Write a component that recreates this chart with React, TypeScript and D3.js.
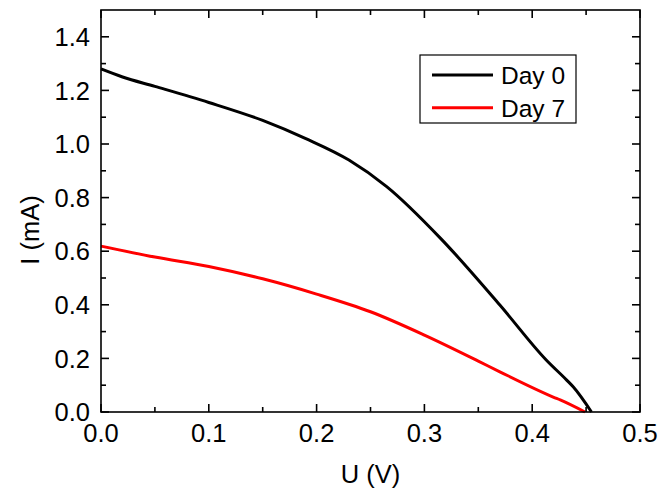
import React from "react";
import * as d3 from "d3";

const day0U = [0, 0.02, 0.05, 0.1, 0.15, 0.19, 0.23, 0.265, 0.315, 0.37, 0.413, 0.432, 0.438, 0.455];
const day0I = [1.28, 1.25, 1.215, 1.155, 1.088, 1.02, 0.94, 0.841, 0.648, 0.399, 0.194, 0.119, 0.094, 0.0];
const day7U = [0, 0.05, 0.1, 0.15, 0.2, 0.25, 0.3, 0.35, 0.37, 0.42, 0.426, 0.449];
const day7I = [0.619, 0.578, 0.543, 0.497, 0.44, 0.374, 0.287, 0.19, 0.15, 0.055, 0.045, 0.0];
const xTicks = [0, 0.1, 0.2, 0.3, 0.4, 0.5];
const yTicks = [0, 0.2, 0.4, 0.6, 0.8, 1.0, 1.2, 1.4];
const seriesNames = ["Day 0", "Day 7"];
const seriesColors = ["#000000", "#ff0000"];

const L = 101, R = 640, T = 10, B = 412;
const FONT = "'Liberation Sans', Arial, sans-serif";

export default function App() {
  const x = d3.scaleLinear().domain([0, 0.5]).range([L, R]);
  const y = d3.scaleLinear().domain([0, 1.5]).range([B, T]);
  const line = d3.line<[number, number]>().x(d => x(d[0])).y(d => y(d[1])).curve(d3.curveMonotoneX);
  const s0 = day0U.map((u, i) => [u, day0I[i]] as [number, number]);
  const s7 = day7U.map((u, i) => [u, day7I[i]] as [number, number]);
  const xMinor = d3.range(0.05, 0.5, 0.1);
  const yMinor = d3.range(0.1, 1.5, 0.2);
  const major = 8, minor = 5;
  const fs = 25.5;
  return (
    <svg width={660} height={495} style={{ position: "absolute", left: 0, top: 0, background: "#fff" }} fontFamily={FONT}>
      <rect x={0} y={0} width={660} height={495} fill="#fff" />
      <path d={line(s0) || ""} fill="none" stroke={seriesColors[0]} strokeWidth={3} strokeLinejoin="round" />
      <path d={line(s7) || ""} fill="none" stroke={seriesColors[1]} strokeWidth={3} strokeLinejoin="round" />
      <rect x={L} y={T} width={R - L} height={B - T} fill="none" stroke="#000" strokeWidth={1.6} />
      {xTicks.map(t => (
        <g key={"xt" + t}>
          <line x1={x(t)} x2={x(t)} y1={B} y2={B - major} stroke="#000" strokeWidth={1.6} />
          <line x1={x(t)} x2={x(t)} y1={T} y2={T + major} stroke="#000" strokeWidth={1.6} />
          <text x={x(t)} y={442} fontSize={fs} textAnchor="middle">{t.toFixed(1)}</text>
        </g>
      ))}
      {xMinor.map(t => (
        <g key={"xm" + t}>
          <line x1={x(t)} x2={x(t)} y1={B} y2={B - minor} stroke="#000" strokeWidth={1.6} />
          <line x1={x(t)} x2={x(t)} y1={T} y2={T + minor} stroke="#000" strokeWidth={1.6} />
        </g>
      ))}
      {yTicks.map(t => (
        <g key={"yt" + t}>
          <line x1={L} x2={L + major} y1={y(t)} y2={y(t)} stroke="#000" strokeWidth={1.6} />
          <line x1={R} x2={R - major} y1={y(t)} y2={y(t)} stroke="#000" strokeWidth={1.6} />
          <text x={90} y={y(t)} dy="0.36em" fontSize={fs} textAnchor="end">{t.toFixed(1)}</text>
        </g>
      ))}
      {yMinor.map(t => (
        <g key={"ym" + t}>
          <line x1={L} x2={L + minor} y1={y(t)} y2={y(t)} stroke="#000" strokeWidth={1.6} />
          <line x1={R} x2={R - minor} y1={y(t)} y2={y(t)} stroke="#000" strokeWidth={1.6} />
        </g>
      ))}
      <text x={(L + R) / 2} y={483} fontSize={fs} textAnchor="middle">U (V)</text>
      <text transform="translate(39,230) rotate(-90)" fontSize={fs} textAnchor="middle">I (mA)</text>
      <rect x={420} y={55} width={156} height={68} fill="#fff" stroke="#000" strokeWidth={1.2} />
      {seriesNames.map((n, i) => (
        <g key={n}>
          <line x1={432} x2={493} y1={75 + i * 32.7} y2={75 + i * 32.7} stroke={seriesColors[i]} strokeWidth={3} />
          <text x={501} y={75 + i * 32.7} dy="0.36em" fontSize={24.5}>{n}</text>
        </g>
      ))}
    </svg>
  );
}
